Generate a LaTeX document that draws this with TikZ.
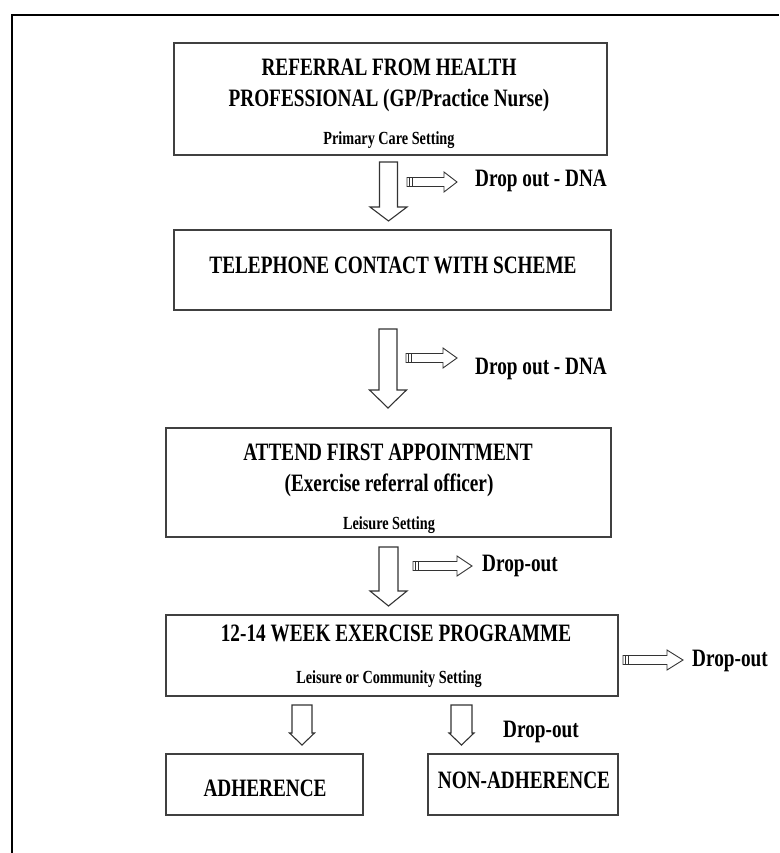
\documentclass[tikz,border=0pt]{standalone}
\usepackage{fontspec}
\setmainfont{Liberation Serif}[FakeStretch=0.77]
\tikzset{
  box/.style={draw=black!75, line width=1.4pt, inner sep=0pt},
  frame/.style={line width=2pt, black},
  barrow/.style={draw=black!80, line width=1.1pt, line join=miter},
  big/.style={font=\bfseries\fontsize{25}{30}\selectfont, inner sep=0pt, text height=16.5pt, text depth=0pt},
  small/.style={font=\bfseries\fontsize{18.5}{22}\selectfont, inner sep=0pt, text height=12.2pt, text depth=0pt},
  drop/.style={big, anchor=west},
}
% down block arrow: x, ytop, ybase, ytip, shaft half width, head half width
\newcommand{\bdown}[6]{%
  \draw[barrow] (#1-#5,#2) -- (#1+#5,#2) -- (#1+#5,#3) -- (#1+#6,#3) -- (#1,#4)
    -- (#1-#6,#3) -- (#1-#5,#3) -- cycle;}
% right block arrow: xtail, xheadbase, xtip, y
\newcommand{\bright}[4]{%
  \draw[barrow, line width=0.9pt] (#1,#4-4.5) -- (#2,#4-4.5) -- (#2,#4-10) -- (#3,#4)
    -- (#2,#4+10) -- (#2,#4+4.5) -- (#1,#4+4.5) -- cycle;
  \draw[barrow, line width=0.9pt] (#1+2.5,#4-4.5) -- (#1+2.5,#4+4.5)
    (#1+5,#4-4.5) -- (#1+5,#4+4.5);}
\begin{document}
\begin{tikzpicture}[x=1pt,y=-1pt]
\useasboundingbox (0,0) rectangle (779,853);
% outer frame
\draw[frame] (12,853) -- (12,15) -- (779,15);

% boxes
\node[box, minimum width=433pt, minimum height=112pt] (b1) at (390.5,99) {};
\node[box, minimum width=437pt, minimum height=80pt] (b2) at (392.5,270) {};
\node[box, minimum width=445pt, minimum height=109pt] (b3) at (388.5,482.5) {};
\node[box, minimum width=452pt, minimum height=81pt] (b4) at (392,655.5) {};
\node[box, minimum width=197pt, minimum height=61pt] (b5) at (264.5,784.5) {};
\node[box, minimum width=190pt, minimum height=61pt] (b6) at (523,784.5) {};

% box texts
\node[big] (t1a) at (389,67) {REFERRAL FROM HEALTH};
\node[big] (t1b) at (389,98) {PROFESSIONAL (GP/Practice Nurse)};
\node[small] (t1c) at (389,138) {Primary Care Setting};
\node[big] (t2) at (393,265) {TELEPHONE CONTACT WITH SCHEME};
\node[big] (t3a) at (388,452) {ATTEND FIRST APPOINTMENT};
\node[big] (t3b) at (389,483) {(Exercise referral officer)};
\node[small] (t3c) at (389,523) {Leisure Setting};
\node[big] (t4a) at (396,633) {12-14 WEEK EXERCISE PROGRAMME};
\node[small] (t4b) at (389,677) {Leisure or Community Setting};
\node[big] (t5) at (265,788) {ADHERENCE};
\node[big] (t6) at (524,780) {NON-ADHERENCE};

% down arrows
\bdown{388.5}{162}{207}{221}{9}{18.5}
\bdown{388}{329}{390}{408}{9}{18.5}
\bdown{388.5}{547}{591}{606}{9.5}{18.5}
\bdown{302}{705}{733}{745}{10}{12.5}
\bdown{461.5}{705}{733}{745}{10.5}{12.5}

% right arrows and drop-out labels
\bright{407}{444}{457}{182}
\node[drop] (d1) at (475,178) {Drop out - DNA};
\bright{406}{443}{457}{358}
\node[drop] (d2) at (475,366) {Drop out - DNA};
\bright{413}{457}{472}{566}
\node[drop] (d3) at (482,563) {Drop-out};
\bright{623}{667}{683}{660}
\node[drop] (d4) at (692,658) {Drop-out};
\node[drop] (d5) at (503,729) {Drop-out};
\end{tikzpicture}
\end{document}
